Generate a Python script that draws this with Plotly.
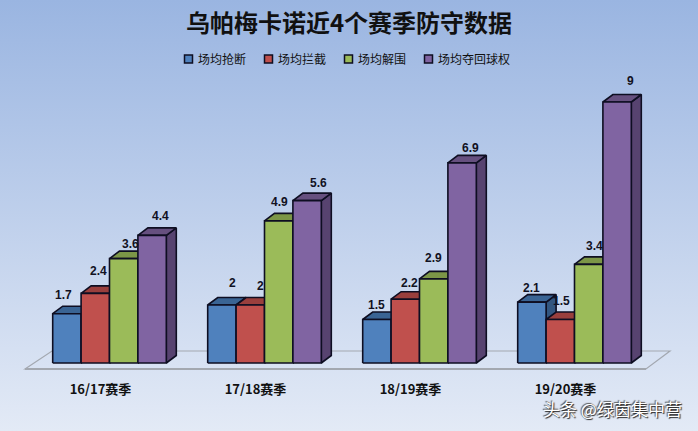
import base64
import plotly.graph_objects as go

# Data
seasons = ["16/17赛季", "17/18赛季", "18/19赛季", "19/20赛季"]
tackles = [1.7, 2, 1.5, 2.1]
intercepts = [2.4, 2, 2.2, 1.5]
clearances = [3.6, 4.9, 2.9, 3.4]
recoveries = [4.4, 5.6, 6.9, 9]
series_names = ["场均抢断", "场均拦截", "场均解围", "场均夺回球权"]

# Colours per series: front, top, side
front_colors = ["#4F81BD", "#C0504D", "#9BBB59", "#8064A2"]
top_colors = ["#3A6494", "#9A3F3D", "#7C9647", "#66507F"]
side_colors = ["#335680", "#833633", "#6A803D", "#574370"]
edge_color = "#0E0E22"

# Hand placed data labels in the original (pixels from the bar top centre)
label_dx = [[-3, 11, 0, 0], [3, 10, 4, 1], [7, 1, 0, 6], [8, 11, 8, 13]]
label_dy = [[19, 22, 15, 14], [22, 19, 16, 19], [15, 19, 21, 18], [19, 18, 15, 21]]

W, H = 698, 431
X_RANGE = [-109.5 / 155, (W - 109.5) / 155]
Y_RANGE = [-68 / 29, 363 / 29]
BAR_W = 28.4 / 155
DEPTH_X = 10 / 155
DEPTH_Y = 7.5 / 29

values = [tackles, intercepts, clearances, recoveries]

# pixel helpers
px = lambda x: x / W
py = lambda y: 1 - y / H
data_x = lambda x: X_RANGE[0] + (X_RANGE[1] - X_RANGE[0]) * x / W
data_y = lambda y: Y_RANGE[1] - (Y_RANGE[1] - Y_RANGE[0]) * y / H

fig = go.Figure()

for s, name in enumerate(series_names):
    xs_front, ys_front, xs_top, ys_top, xs_side, ys_side = [], [], [], [], [], []
    for g, v in enumerate(values[s]):
        x0 = g + (s - 2) * BAR_W
        x1 = x0 + BAR_W
        xs_front += [x0, x1, x1, x0, x0, None]
        ys_front += [0, 0, v, v, 0, None]
        xs_top += [x0, x1, x1 + DEPTH_X, x0 + DEPTH_X, x0, None]
        ys_top += [v, v, v + DEPTH_Y, v + DEPTH_Y, v, None]
        xs_side += [x1, x1 + DEPTH_X, x1 + DEPTH_X, x1, x1, None]
        ys_side += [0, DEPTH_Y, v + DEPTH_Y, v, 0, None]
    for xs, ys, color in [(xs_side, ys_side, side_colors[s]),
                          (xs_top, ys_top, top_colors[s]),
                          (xs_front, ys_front, front_colors[s])]:
        fig.add_trace(go.Scatter(x=xs, y=ys, mode="lines", fill="toself", fillcolor=color,
                                 line=dict(color=edge_color, width=1.6),
                                 hoverinfo="skip", showlegend=False))

    # legend row, plotly's own legend can't keep the swatch this close to the text
    fig.add_trace(go.Scatter(x=[data_x(188.5 + 80 * s)], y=[data_y(59)], mode="markers",
                             name=name, showlegend=False,
                             marker=dict(symbol="square", size=8, color=front_colors[s],
                                         line=dict(color=edge_color, width=1.5))))
    fig.add_annotation(xref="paper", yref="paper", x=px(196 + 80 * s), y=py(58), text=name, showarrow=False,
                       xanchor="left", yanchor="middle",
                       font=dict(family="Noto Sans CJK SC", size=12, color="#111111"))

    for g, v in enumerate(values[s]):
        fig.add_annotation(x=g + (s - 1.5) * BAR_W, y=v, text=str(v), showarrow=False,
                           xshift=label_dx[s][g], yshift=label_dy[s][g], yanchor="middle",
                           font=dict(family="Liberation Sans", size=12, color="#111122", weight="bold"))

# Background gradient, the chart area fill in the original
svg = ('<svg xmlns="http://www.w3.org/2000/svg" width="698" height="431">'
       '<defs><linearGradient id="g" x1="0" y1="0" x2="0" y2="1">'
       '<stop offset="0" stop-color="#9AB5E1"/><stop offset="1" stop-color="#E3EAF6"/>'
       '</linearGradient></defs><rect width="698" height="431" fill="url(#g)"/></svg>')
fig.add_layout_image(source="data:image/svg+xml;base64," + base64.b64encode(svg.encode()).decode(),
                     xref="paper", yref="paper", x=0, y=1, sizex=1, sizey=1,
                     sizing="stretch", xanchor="left", yanchor="top", layer="below")

# Floor of the 3D chart
fig.add_shape(type="path", xref="paper", yref="paper", layer="below",
              path=f"M {px(25)} {py(369)} L {px(52)} {py(351)} L {px(670)} {py(351)} L {px(646)} {py(369)} Z",
              line=dict(color="#A3A8B0", width=1.2))
fig.add_shape(type="line", xref="paper", yref="paper", layer="below",
              x0=px(25), y0=py(369), x1=px(646), y1=py(369),
              line=dict(color="#A3A8B0", width=2.2))

# Watermark
fig.add_annotation(xref="paper", yref="paper", x=px(612), y=py(408), text="头条 @绿茵集中营", showarrow=False,
                   xanchor="center", yanchor="middle",
                   font=dict(family="Noto Sans CJK SC", size=17, color="#FFFFFF",
                             shadow="1px 1px 1px #222222, -1px -1px 1px #555555"))

fig.update_layout(
    width=W, height=H,
    margin=dict(l=0, r=0, t=0, b=0),
    paper_bgcolor="rgba(0,0,0,0)",
    plot_bgcolor="rgba(0,0,0,0)",
    title=dict(text="<b>乌帕梅卡诺近4个赛季防守数据</b>", x=0.5, xanchor="center", y=1 - 24 / H, yanchor="middle",
               font=dict(family="Noto Sans CJK SC", size=24, color="#111111")),
    xaxis=dict(range=X_RANGE, tickmode="array", tickvals=[0, 1, 2, 3], ticktext=seasons,
               anchor="free", position=(H - 372) / H, showgrid=False, zeroline=False, showline=False,
               ticks="outside", ticklen=5, tickcolor="rgba(0,0,0,0)", ticklabelshift=-9,
               tickfont=dict(family="Noto Sans CJK SC", size=13, color="#111111", weight="bold")),
    yaxis=dict(range=Y_RANGE, visible=False),
    showlegend=False,
    hovermode=False,
)

# the default page margin would push the figure out of the 698x431 window
fig.write_html("out.html", config=dict(displayModeBar=False),
               post_script="document.body.style.margin='0';document.body.style.overflow='hidden';")
